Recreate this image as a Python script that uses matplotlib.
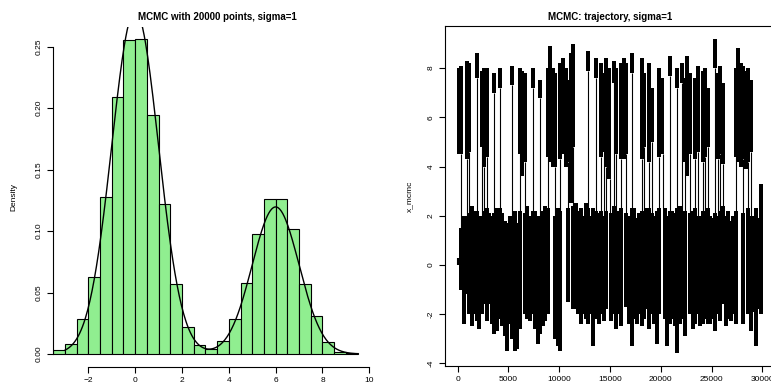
import numpy as np
import matplotlib.pyplot as plt

plt.rcParams['font.family'] = ['Liberation Sans', 'DejaVu Sans']

# ---- left panel: histogram of the MCMC sample (density scale) ----
bin_edges = np.arange(-3.5, 9.51, 0.5)
bin_density = [0.0033, 0.0079, 0.0285, 0.0624, 0.1274, 0.2093, 0.2551, 0.2562,
               0.1944, 0.1217, 0.0567, 0.0217, 0.0073, 0.0038, 0.0103, 0.0282,
               0.0575, 0.0973, 0.1258, 0.1264, 0.1014, 0.0572, 0.0309, 0.0095,
               0.0019, 0.0005]

# target density: two-component normal mixture
mix_weights = [0.7, 0.3]
mix_means = [0.0, 6.0]
mix_sd = 1.0
curve_from, curve_to = -3.0, 9.5

# ---- right panel: trajectory, min/max of x_mcmc in blocks of 250 iterations ----
trace_step = 250
trace_lo = [4.5, -1.0, -2.4, -1.2, -2.0, -2.5, -2.0, -2.3, -2.6, -2.0,
            -1.6, -2.3, -1.6, -2.4, -2.8, -2.7, -2.2, -2.5, -2.9, -3.5,
            -2.4, -3.0, -3.5, -3.4, -2.6, 3.6, -2.0, -2.2, -2.3, -2.0,
            -2.6, -3.2, -2.8, -2.5, -2.3, -2.0, 4.2, 4.0, -3.0, -3.3,
            -3.5, 4.5, 4.0, -1.5, 2.5, -1.8, -1.8, -2.0, -2.4, -2.0,
            -2.2, -2.4, -2.0, -3.3, -2.2, -2.4, -2.0, -2.3, -1.8, 3.5,
            -2.3, -2.0, -2.6, -2.0, -2.5, 4.3, -1.7, -2.4, -3.3, -2.2,
            -2.4, -2.0, -2.5, -2.2, -1.8, -2.6, -2.0, -2.4, -3.2, -2.0,
            4.5, -2.2, -3.3, -2.4, -2.2, -2.5, -3.6, -2.4, -2.2, -2.9,
            3.6, -2.0, -2.6, -2.4, -2.0, -2.5, -2.4, -2.2, -2.4, -2.4,
            -2.2, -2.7, -2.0, -2.3, -1.6, -2.5, -2.2, -2.3, -2.0, -2.4,
            4.2, 4.0, -2.4, 3.9, -2.0, -2.7, -1.9, -3.3, -1.8, -2.0]
trace_hi = [8.0, 8.1, 2.0, 8.3, 8.2, 2.4, 2.2, 8.6, 2.0, 7.9,
            8.0, 8.0, 2.1, 2.0, 7.8, 2.3, 8.0, 2.1, 1.8, 1.7,
            2.0, 8.1, 2.2, 1.7, 8.0, 7.9, 7.8, 2.4, 2.0, 8.0,
            2.2, 2.0, 7.5, 2.2, 2.4, 8.0, 8.9, 8.0, 7.8, 2.3,
            8.2, 8.4, 8.0, 7.5, 8.6, 9.0, 2.5, 2.2, 2.3, 2.0,
            2.5, 8.7, 2.0, 2.3, 8.4, 2.1, 8.2, 7.8, 8.4, 8.0,
            2.1, 8.3, 8.0, 2.2, 8.2, 8.4, 8.2, 2.0, 8.6, 2.3,
            1.9, 2.1, 8.4, 7.8, 2.3, 8.2, 7.2, 2.0, 2.2, 8.0,
            7.6, 2.3, 2.0, 8.5, 2.2, 2.1, 8.0, 2.4, 8.2, 7.6,
            8.5, 7.8, 2.2, 7.6, 8.1, 2.0, 7.9, 8.0, 7.2, 2.0,
            1.9, 9.2, 7.8, 8.1, 7.4, 2.0, 2.2, 1.8, 2.0, 8.0,
            8.8, 8.2, 8.1, 7.9, 8.0, 7.5, 2.0, 2.3, 1.9, 3.3]
# blocks that visit both modes: empty gap between the two bands (crossed by jumps only)
gap_blocks = [1, 3, 4, 7, 9, 10, 11, 14, 16, 21, 24, 26, 29, 32, 35, 38, 40, 43, 45,
              51, 54, 56, 57, 58, 61, 62, 64, 66, 68, 72, 73, 75, 76, 79, 83, 86, 88,
              89, 91, 93, 94, 96, 97, 98, 101, 102, 103, 104, 109, 112, 114, 115]
gap_lo = [1.5, 2.0, 2.1, 2.2, 2.0, 2.2, 2.3, 2.1, 2.3, 2.0, 2.2, 2.1, 2.2, 2.0, 2.3,
          2.0, 2.2, 2.3, 2.4, 2.3, 2.2, 2.2, 2.0, 2.2, 2.4, 2.0, 2.3, 2.1, 2.3, 2.2,
          2.0, 2.3, 2.1, 2.3, 2.2, 2.3, 2.0, 2.2, 2.1, 2.3, 2.0, 2.2, 2.1, 2.3, 2.1,
          2.0, 2.2, 2.4, 2.2, 2.1, 2.3, 2.0]
gap_hi = [4.5, 4.3, 4.6, 7.6, 4.8, 4.0, 4.4, 7.0, 7.2, 7.3, 4.5, 4.2, 7.2, 6.8, 4.4,
          4.0, 4.3, 4.2, 4.8, 7.9, 7.6, 4.4, 4.6, 4.0, 7.4, 4.5, 4.3, 4.5, 7.8, 4.3,
          4.8, 4.2, 5.0, 4.4, 7.7, 7.2, 7.4, 4.2, 4.5, 4.3, 4.6, 4.2, 4.4, 4.8, 8.0,
          4.3, 4.5, 4.1, 4.4, 4.3, 4.2, 4.6]
start_iter = 40
start_val = [0.0, 0.3]

fig = plt.figure(figsize=(7.71, 3.90), dpi=100)

# ---------------- histogram ----------------
ax1 = fig.add_axes([52.7 / 771, 23.3 / 390, 328.8 / 771, 340.1 / 390])
widths = np.diff(bin_edges)
ax1.bar(bin_edges[:-1], bin_density, width=widths, align='edge',
        color='#90ee90', edgecolor='black', linewidth=0.8)

xs = np.linspace(curve_from, curve_to, 400)
dens = np.zeros_like(xs)
for w, m in zip(mix_weights, mix_means):
    dens += w * np.exp(-0.5 * ((xs - m) / mix_sd) ** 2) / (mix_sd * np.sqrt(2 * np.pi))
ax1.plot(xs, dens, color='black', lw=1.0)

ax1.set_xlim(-3.52, 10.52)
ax1.set_ylim(-0.0103, 0.2664)
for s in ['top', 'right']:
    ax1.spines[s].set_visible(False)
ax1.spines['left'].set_bounds(0, 0.25)
ax1.spines['bottom'].set_bounds(-2, 10)
ax1.set_xticks(np.arange(-2, 11, 2))
ax1.set_yticks([0, 0.05, 0.10, 0.15, 0.20, 0.25])
ax1.set_yticklabels(['0.00', '0.05', '0.10', '0.15', '0.20', '0.25'],
                    rotation=90, va='center')
ax1.set_ylabel('Density', fontsize=6, labelpad=13)
ax1.set_title('MCMC with 20000 points, sigma=1', fontsize=7, fontweight='bold', pad=4.5)

# ---------------- trajectory ----------------
ax2 = fig.add_axes([445.5 / 771, 24.0 / 390, 329.0 / 771, 339.9 / 390])
n_blk = len(trace_lo)
centers = np.arange(n_blk) * trace_step + trace_step / 2
gaps = dict(zip(gap_blocks, zip(gap_lo, gap_hi)))

thick_x, thick_a, thick_b = [], [], []
thin_x, thin_a, thin_b = [], [], []
for k in range(n_blk):
    lo, hi = trace_lo[k], trace_hi[k]
    if k in gaps:
        g0, g1 = gaps[k]
        thick_x += [centers[k], centers[k]]
        thick_a += [lo, g1]
        thick_b += [g0, hi]
        thin_x.append(centers[k])
        thin_a.append(g0)
        thin_b.append(g1)
    else:
        thick_x.append(centers[k])
        thick_a.append(lo)
        thick_b.append(hi)
    # jump between neighbouring blocks sitting in different modes
    if k + 1 < n_blk:
        nlo, nhi = trace_lo[k + 1], trace_hi[k + 1]
        if nlo > hi or nhi < lo:
            thin_x.append((k + 1) * trace_step)
            thin_a.append(min(hi, nhi))
            thin_b.append(max(lo, nlo))

ax2.vlines(thick_x, thick_a, thick_b, color='black', lw=2.6, capstyle='butt',
           antialiased=False)
ax2.vlines(thin_x, thin_a, thin_b, color='black', lw=0.8)
ax2.vlines([start_iter], start_val[0], start_val[1], color='black', lw=1.5)

ax2.set_xlim(-1199, 31200)
ax2.set_ylim(-4.11, 9.71)
ax2.set_xticks(np.arange(0, 30001, 5000))
ax2.set_yticks(np.arange(-4, 9, 2))
ax2.set_yticklabels([str(v) for v in range(-4, 9, 2)], rotation=90, va='center')
ax2.set_ylabel('x_mcmc', fontsize=6, labelpad=11)
ax2.set_title('MCMC: trajectory, sigma=1', fontsize=7, fontweight='bold', pad=4.5)

for ax in (ax1, ax2):
    ax.tick_params(labelsize=6, length=4, width=0.8, pad=3.5)
    for sp in ax.spines.values():
        sp.set_linewidth(0.8)

fig.savefig('out.png', dpi=100)
